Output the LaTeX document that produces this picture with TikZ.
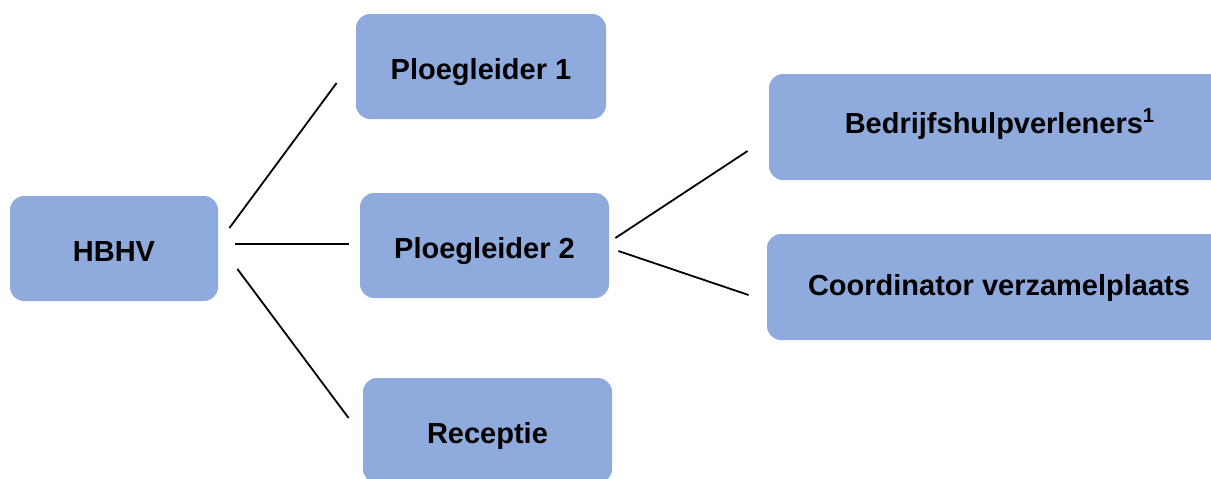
\documentclass[tikz,border=0pt]{standalone}
\usepackage{fontspec}
\setmainfont{Liberation Sans}
\usepackage{xcolor}
\definecolor{boxblue}{RGB}{143,170,220}

\begin{document}
\begin{tikzpicture}[x=0.5pt, y=-0.5pt,
        role/.style={fill=boxblue, rounded corners=7pt, inner sep=0pt,
            minimum height=52.5pt, text height=12.5pt, text depth=0pt,
            font=\fontsize{14.5}{17}\selectfont\bfseries},
        link/.style={black, line width=0.9pt}]
            % Picture frame
            \useasboundingbox (0,0) rectangle (1211,478);

            % Boxes
            \node[role, minimum width=104pt] (hbhv) at (114,248.5) {HBHV};
            \node[role, minimum width=125pt] (pl1) at (481,66.5) {Ploegleider 1};
            \node[role, minimum width=124.5pt] (pl2) at (484.5,245.5) {Ploegleider 2};
            \node[role, minimum width=124.5pt] (rec) at (487.5,430.5) {Receptie};
            \node[role, minimum width=231pt, minimum height=53pt, text height=6.3pt] (bhv) at (1000,127) {Bedrijfshulpverleners\textsuperscript{1}};
            \node[role, minimum width=232pt, minimum height=53pt, text height=8pt] (coord) at (999,287) {Coordinator verzamelplaats};

            % Lines from HBHV
            \draw[link] ([shift={(11,-20.5)}]hbhv.east) -- ([shift={(-19,16.5)}]pl1.west);
            \draw[link] ([shift={(17,-4.5)}]hbhv.east) -- ([shift={(-11,-1.5)}]pl2.west);
            \draw[link] ([shift={(19,20.5)}]hbhv.east) -- ([shift={(-14,-12.5)}]rec.west);

            % Lines from Ploegleider 2
            \draw[link] ([shift={(6,-7.5)}]pl2.east) -- ([shift={(-21,24)}]bhv.west);
            \draw[link] ([shift={(9,5.5)}]pl2.east) -- ([shift={(-18,8)}]coord.west);
        \end{tikzpicture}
\end{document}
